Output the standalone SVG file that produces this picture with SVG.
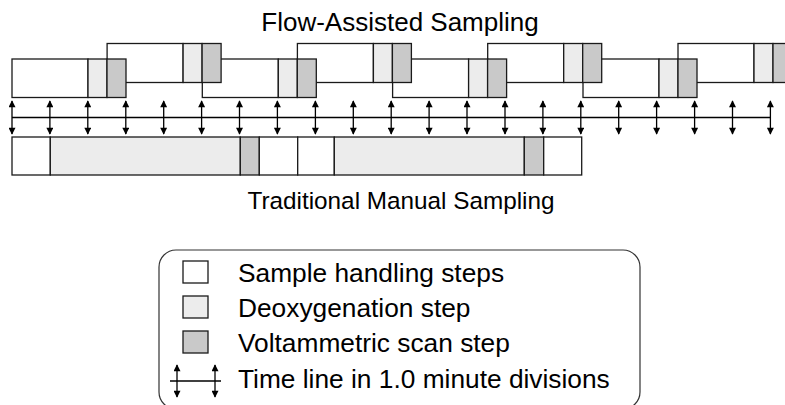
<svg xmlns="http://www.w3.org/2000/svg" width="785" height="405" viewBox="0 0 785 405">
  <defs>
    <style>
      text { font-family: "Liberation Sans", Arial, sans-serif; fill: #000; }
      .title { text-anchor: middle; }
      .legend-text { font-size: 26.3px; }
      .step { stroke: #1a1a1a; stroke-width: 1.3; }
      .handling { fill: #ffffff; }
      .deox { fill: #ececec; }
      .scan { fill: #c9c9c9; }
      .tick { stroke: #000; stroke-width: 1.3; fill: none; marker-start: url(#head); marker-end: url(#head); }
      .axis { stroke: #000; stroke-width: 1.3; fill: none; }
    </style>
    <marker id="head" viewBox="0 0 10 10" refX="9" refY="5" markerUnits="userSpaceOnUse" markerWidth="9" markerHeight="7" orient="auto-start-reverse">
      <path d="M0,0 L10,5 L0,10 Z" fill="#000"/>
    </marker>
    <!-- one flow-assisted run: 2 min handling, 0.5 min deoxygenation, 0.5 min scan -->
    <g id="run-low">
      <rect class="step handling" x="0" y="59" width="76" height="38.5"/>
      <rect class="step deox" x="76" y="59" width="19" height="38.5"/>
      <rect class="step scan" x="95" y="59" width="19" height="38.5"/>
    </g>
    <g id="run-high">
      <rect class="step handling" x="0" y="43.5" width="76" height="39"/>
      <rect class="step deox" x="76" y="43.5" width="19" height="39"/>
      <rect class="step scan" x="95" y="43.5" width="19" height="39"/>
    </g>
  </defs>

  <rect width="785" height="405" fill="#fff"/>

  <text class="title" x="400" y="31" font-size="26">Flow-Assisted Sampling</text>

  <!-- staggered runs; earlier runs sit on top of later ones -->
  <g id="flow-run-8"><use href="#run-high" x="678"/></g>
  <g id="flow-run-7"><use href="#run-low" x="583"/></g>
  <g id="flow-run-6"><use href="#run-high" x="487.7"/></g>
  <g id="flow-run-5"><use href="#run-low" x="392.6"/></g>
  <g id="flow-run-4"><use href="#run-high" x="297.4"/></g>
  <g id="flow-run-3"><use href="#run-low" x="202.3"/></g>
  <g id="flow-run-2"><use href="#run-high" x="107.1"/></g>
  <g id="flow-run-1"><use href="#run-low" x="12"/></g>

  <!-- time line with 1.0 minute divisions -->
  <g id="connectors">
    <line class="axis" x1="12" y1="117.5" x2="770.5" y2="117.5"/>
    <line class="tick" x1="12" y1="101" x2="12" y2="134"/>
    <line class="tick" x1="49.9" y1="101" x2="49.9" y2="134"/>
    <line class="tick" x1="87.8" y1="101" x2="87.8" y2="134"/>
    <line class="tick" x1="125.8" y1="101" x2="125.8" y2="134"/>
    <line class="tick" x1="163.7" y1="101" x2="163.7" y2="134"/>
    <line class="tick" x1="201.6" y1="101" x2="201.6" y2="134"/>
    <line class="tick" x1="239.5" y1="101" x2="239.5" y2="134"/>
    <line class="tick" x1="277.4" y1="101" x2="277.4" y2="134"/>
    <line class="tick" x1="315.4" y1="101" x2="315.4" y2="134"/>
    <line class="tick" x1="353.3" y1="101" x2="353.3" y2="134"/>
    <line class="tick" x1="391.2" y1="101" x2="391.2" y2="134"/>
    <line class="tick" x1="429.1" y1="101" x2="429.1" y2="134"/>
    <line class="tick" x1="467" y1="101" x2="467" y2="134"/>
    <line class="tick" x1="505" y1="101" x2="505" y2="134"/>
    <line class="tick" x1="542.9" y1="101" x2="542.9" y2="134"/>
    <line class="tick" x1="580.8" y1="101" x2="580.8" y2="134"/>
    <line class="tick" x1="618.7" y1="101" x2="618.7" y2="134"/>
    <line class="tick" x1="656.6" y1="101" x2="656.6" y2="134"/>
    <line class="tick" x1="694.6" y1="101" x2="694.6" y2="134"/>
    <line class="tick" x1="732.5" y1="101" x2="732.5" y2="134"/>
    <line class="tick" x1="770.4" y1="101" x2="770.4" y2="134"/>
  </g>

  <!-- traditional manual sampling, two runs back to back -->
  <g id="manual-run-1">
    <rect class="step handling" x="12" y="137" width="38.3" height="38"/>
    <rect class="step deox" x="50.3" y="137" width="190" height="38"/>
    <rect class="step scan" x="240.3" y="137" width="19" height="38"/>
    <rect class="step handling" x="259.3" y="137" width="38.4" height="38"/>
  </g>
  <g id="manual-run-2">
    <rect class="step handling" x="297.7" y="137" width="36.6" height="38"/>
    <rect class="step deox" x="334.3" y="137" width="190" height="38"/>
    <rect class="step scan" x="524.3" y="137" width="19.4" height="38"/>
    <rect class="step handling" x="543.7" y="137" width="38" height="38"/>
  </g>

  <text class="title" x="401" y="209" font-size="24.3">Traditional Manual Sampling</text>

  <!-- key -->
  <g id="legend">
    <rect x="159" y="250" width="481" height="159" rx="17" ry="17" fill="none" stroke="#333" stroke-width="1.2"/>
    <rect class="step handling" x="183" y="261" width="25" height="22"/>
    <text class="legend-text" x="238" y="282">Sample handling steps</text>
    <rect class="step deox" x="183" y="296" width="25" height="22"/>
    <text class="legend-text" x="238" y="317">Deoxygenation step</text>
    <rect class="step scan" x="183" y="331" width="25" height="22"/>
    <text class="legend-text" x="238" y="352">Voltammetric scan step</text>
    <line class="axis" x1="170" y1="381" x2="221" y2="381"/>
    <line class="tick" x1="177" y1="365" x2="177" y2="397"/>
    <line class="tick" x1="215" y1="365" x2="215" y2="397"/>
    <text class="legend-text" x="238" y="388">Time line in 1.0 minute divisions</text>
  </g>
</svg>
